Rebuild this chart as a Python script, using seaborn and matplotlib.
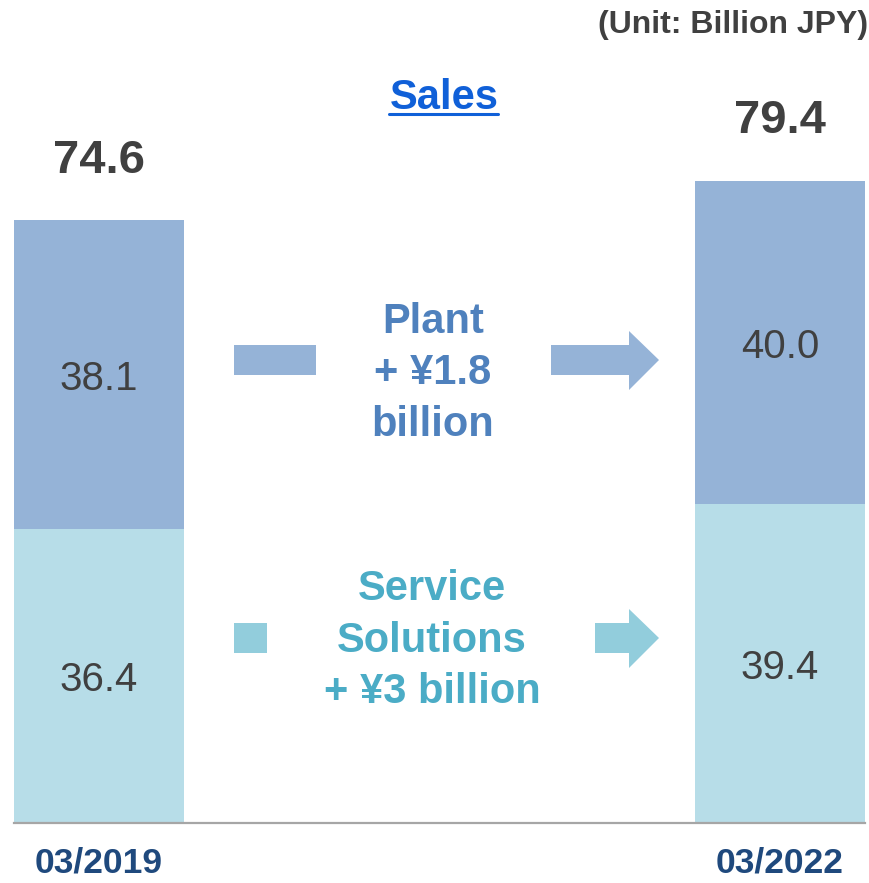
import matplotlib
matplotlib.use("Agg")
import matplotlib.pyplot as plt
import seaborn as sns
import pandas as pd
from matplotlib.patches import Polygon

periods = ["03/2019", "03/2022"]
plant = [38.1, 40.0]
service = [36.4, 39.4]
totals = [74.6, 79.4]
plant_text = ["Plant", "+ ¥1.8", "billion"]
service_text = ["Service", "Solutions", "+ ¥3 billion"]

sns.set_theme(style="white")
plt.rcParams["font.family"] = ["Liberation Sans", "DejaVu Sans"]

W, H = 870, 883
fig = plt.figure(figsize=(W / 100, H / 100), dpi=100)
fig.patch.set_facecolor("white")


def px(x, y):
    return x / W, 1 - y / H


ax = fig.add_axes([0, 60 / H, 1, 823 / H])
df = pd.DataFrame({"period": periods, "plant": plant, "service": service})
df["stack"] = df["plant"] + df["service"]

sns.barplot(data=df, x="period", y="stack", color="#95B3D7", width=0.25,
            saturation=1, ax=ax, linewidth=0)
sns.barplot(data=df, x="period", y="service", color="#B7DDE8", width=0.25,
            saturation=1, ax=ax, linewidth=0)

ax.set_xlim(-99 / 681, 771 / 681)
ax.set_ylim(0, 823 / 8.09)
ax.set_xlabel("")
ax.set_ylabel("")
ax.set_yticks([])
for s in ["top", "left", "right"]:
    ax.spines[s].set_visible(False)
ax.spines["bottom"].set_color("#A6A6A6")
ax.spines["bottom"].set_linewidth(1.6)
ax.spines["bottom"].set_bounds(-0.125, 1.125)
ax.tick_params(axis="x", length=0, pad=17, labelsize=25.5, labelcolor="#1F497D")
for lbl in ax.get_xticklabels():
    lbl.set_fontweight("bold")

for i in range(len(periods)):
    ax.annotate(f"{service[i]:.1f}", (i, service[i] / 2), xytext=(0, -3),
                textcoords="offset points", ha="center", va="center",
                fontsize=29, color="#404040")
    ax.annotate(f"{plant[i]:.1f}", (i, service[i] + plant[i] / 2),
                xytext=(0, -3), textcoords="offset points", ha="center",
                va="center", fontsize=29, color="#404040")
    ax.annotate(f"{totals[i]:.1f}", (i, service[i] + plant[i]),
                xytext=(0, 34), textcoords="offset points", ha="center",
                va="baseline", fontsize=34, fontweight="bold", color="#404040")

# titles
fig.text(*px(868, 25), "(Unit: Billion JPY)", ha="right", va="center",
         fontsize=23, fontweight="bold", color="#404040")
sales = fig.text(*px(444, 98), "Sales", ha="center", va="center",
                 fontsize=30, fontweight="bold", color="#1060D8")
fig.canvas.draw()
bb = sales.get_window_extent(fig.canvas.get_renderer())
fig.add_artist(plt.Line2D([bb.x0 / W, bb.x1 / W], [1 - 114 / H, 1 - 114 / H],
                          transform=fig.transFigure, color="#1060D8", lw=2.2))

# middle texts
for k, t in enumerate(plant_text):
    fig.text(*px(433, 322 + 51.5 * k), t, ha="center", va="center",
             fontsize=30, fontweight="bold", color="#4F81BD")
for k, t in enumerate(service_text):
    fig.text(*px(432, 589 + 51.5 * k), t, ha="center", va="center",
             fontsize=30, fontweight="bold", color="#4BACC6")


def poly(points, color):
    pts = [px(x, y) for x, y in points]
    fig.add_artist(Polygon(pts, closed=True, transform=fig.transFigure,
                           facecolor=color, edgecolor="none"))


# plant arrow pieces
poly([(234, 345), (316, 345), (316, 375), (234, 375)], "#95B3D7")
poly([(551, 345), (629, 345), (629, 331), (659, 360), (629, 390), (629, 375),
      (551, 375)], "#95B3D7")
# service arrow pieces
poly([(234, 623), (267, 623), (267, 653), (234, 653)], "#92CDDC")
poly([(595, 623), (629, 623), (629, 609), (659, 638), (629, 668), (629, 653),
      (595, 653)], "#92CDDC")

fig.savefig("out.png", dpi=100, facecolor="white")
